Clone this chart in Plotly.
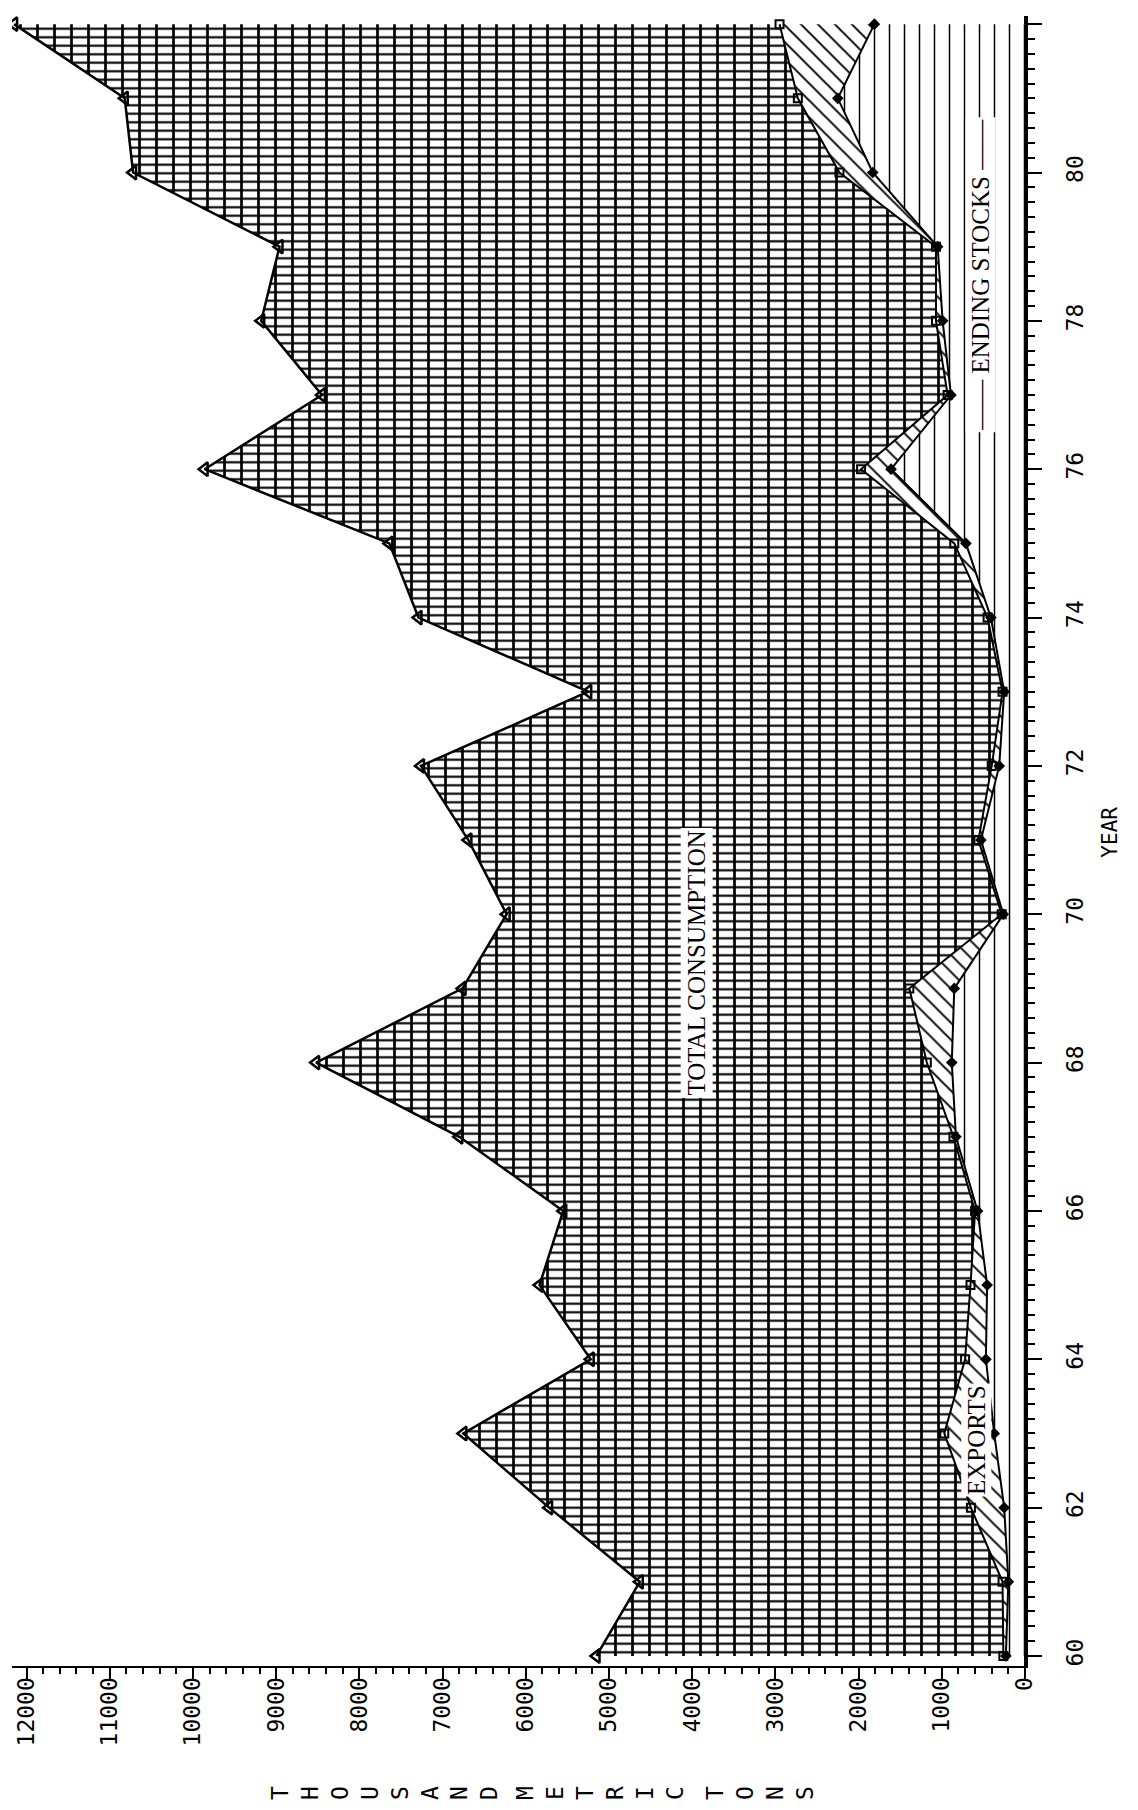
import numpy as np
import plotly.graph_objects as go

# ---- data (thousand metric tons) ----
years = list(range(60, 83))
ending_stocks = [230, 200, 250, 370, 470, 455, 570, 830, 880, 850, 260, 530, 310,
                 250, 410, 710, 1610, 890, 990, 1050, 1830, 2250, 1810]
exports = [30, 70, 400, 600, 250, 200, 30, 30, 300, 540, 20, 30, 90,
           20, 40, 140, 360, 40, 80, 20, 400, 480, 1140]
total_consumption = [4890, 4360, 5070, 5780, 4500, 5180, 4950, 5940, 7340, 5370, 5950, 6130, 6860,
                     4980, 6840, 6790, 7890, 7520, 8110, 7890, 8490, 8090, 9200]

value_ticks = list(range(0, 13000, 1000))
year_ticks = list(range(60, 84, 2))

# stacked boundaries
lvl1 = np.array(ending_stocks)
lvl2 = lvl1 + np.array(exports)
lvl3 = lvl2 + np.array(total_consumption)

W, H = 1138, 1810
ML, MR, MT, MB = 4, 121, 8, 152
pw = W - ML - MR
ph = H - MT - MB

fig = go.Figure()

# consumption background: horizontal lines on white (down to zero, later covered)
fig.add_trace(go.Scatter(
    x=lvl3, y=years, mode="lines", line=dict(color="black", width=0),
    fill="tozerox", fillcolor="white",
    fillpattern=dict(shape="-", size=8.5, solidity=0.25, fgcolor="black", bgcolor="white", fillmode="replace"),
    hoverinfo="skip", showlegend=False))
# ending stocks band (vertical hatch)
fig.add_trace(go.Scatter(
    x=lvl1, y=years, mode="lines", line=dict(color="black", width=0),
    fill="tozerox", fillcolor="white",
    fillpattern=dict(shape="|", size=15, solidity=0.1, fgcolor="black", bgcolor="white", fillmode="replace"),
    hoverinfo="skip", showlegend=False))
# exports band (diagonal hatch)
fig.add_trace(go.Scatter(
    x=lvl2, y=years, mode="lines", line=dict(color="black", width=0),
    fill="tonextx", fillcolor="white",
    fillpattern=dict(shape="\\", size=12, solidity=0.16, fgcolor="black", bgcolor="white", fillmode="replace"),
    hoverinfo="skip", showlegend=False))
# consumption band: vertical lines on transparent background
fig.add_trace(go.Scatter(
    x=lvl3, y=years, mode="lines", line=dict(color="black", width=0),
    fill="tonextx", fillcolor="rgba(0,0,0,0)",
    fillpattern=dict(shape="|", size=17, solidity=0.16, fgcolor="black", fillmode="replace"),
    hoverinfo="skip", showlegend=False))

# boundary lines with markers
fig.add_trace(go.Scatter(
    x=lvl1, y=years, mode="lines+markers", line=dict(color="black", width=2),
    marker=dict(symbol="diamond", size=9, color="black"),
    hoverinfo="skip", showlegend=False))
fig.add_trace(go.Scatter(
    x=lvl2, y=years, mode="lines+markers", line=dict(color="black", width=2),
    marker=dict(symbol="square-open", size=8, color="black", line=dict(width=2)),
    hoverinfo="skip", showlegend=False))
fig.add_trace(go.Scatter(
    x=lvl3, y=years, mode="lines+markers", line=dict(color="black", width=2.5),
    marker=dict(symbol="triangle-left-open", size=12, color="black", line=dict(width=2.5)),
    hoverinfo="skip", showlegend=False))

tickfont = dict(family="DejaVu Sans Mono", size=23, color="black")

fig.update_xaxes(
    range=[12175, 0], tickmode="array", tickvals=value_ticks,
    ticktext=[str(v) for v in value_ticks], tickangle=-90, tickfont=tickfont,
    ticks="outside", ticklen=12, tickwidth=2, tickcolor="black", ticklabelstandoff=-12,
    minor=dict(dtick=200, tick0=0, ticks="outside", ticklen=6, tickwidth=2, tickcolor="black", showgrid=False),
    showline=True, linecolor="black", linewidth=2, showgrid=False,
    zeroline=True, zerolinecolor="black", zerolinewidth=2, automargin=False)
fig.update_yaxes(
    range=[59.865, 82.11], side="right", tickmode="array", tickvals=year_ticks,
    ticktext=[str(v) for v in year_ticks], tickangle=-90, tickfont=tickfont,
    ticks="outside", ticklen=14, tickwidth=2, tickcolor="black", ticklabelstandoff=14,
    minor=dict(dtick=0.2, tick0=60, ticks="outside", ticklen=7, tickwidth=2, tickcolor="black", showgrid=False),
    showline=True, linecolor="black", linewidth=2.5, showgrid=False, zeroline=False, automargin=False)

serif = dict(family="Liberation Serif", size=25, color="black")
fig.add_annotation(x=3950, y=69.34, xref="x", yref="y", text="TOTAL CONSUMPTION",
                   xanchor="center", yanchor="middle",
                   textangle=-90, showarrow=False, font=serif, bgcolor="white", borderpad=2)
fig.add_annotation(x=590, y=62.91, xref="x", yref="y", text="EXPORTS",
                   xanchor="center", yanchor="middle",
                   textangle=-90, showarrow=False, font=serif, bgcolor="white", borderpad=1)
fig.add_annotation(x=530, y=78.62, xref="x", yref="y", text="\u2014\u2014 ENDING STOCKS \u2014\u2014",
                   xanchor="center", yanchor="middle",
                   textangle=-90, showarrow=False, font=serif, bgcolor="white", borderpad=1)

fig.add_annotation(x=(1102 - ML) / pw, y=71.1, xref="paper", yref="y", text="YEAR",
                   xanchor="center", yanchor="middle", textangle=-90, showarrow=False,
                   font=dict(family="DejaVu Sans Mono", size=21, color="black"))

ytitle = (H - 1785 - MB) / ph
for word, cx in [("THOUSAND", 376), ("METRIC", 592), ("TONS", 752)]:
    fig.add_annotation(x=(cx - ML) / pw, y=ytitle, xref="paper", yref="paper",
                       xanchor="center", yanchor="middle",
                       text="<br>".join(word), textangle=-90, showarrow=False,
                       font=dict(family="DejaVu Sans Mono", size=23, color="black"))

fig.update_layout(
    width=W, height=H, margin=dict(l=ML, r=MR, t=MT, b=MB, autoexpand=False),
    paper_bgcolor="white", plot_bgcolor="white", showlegend=False)

fig.write_html("out.html")
